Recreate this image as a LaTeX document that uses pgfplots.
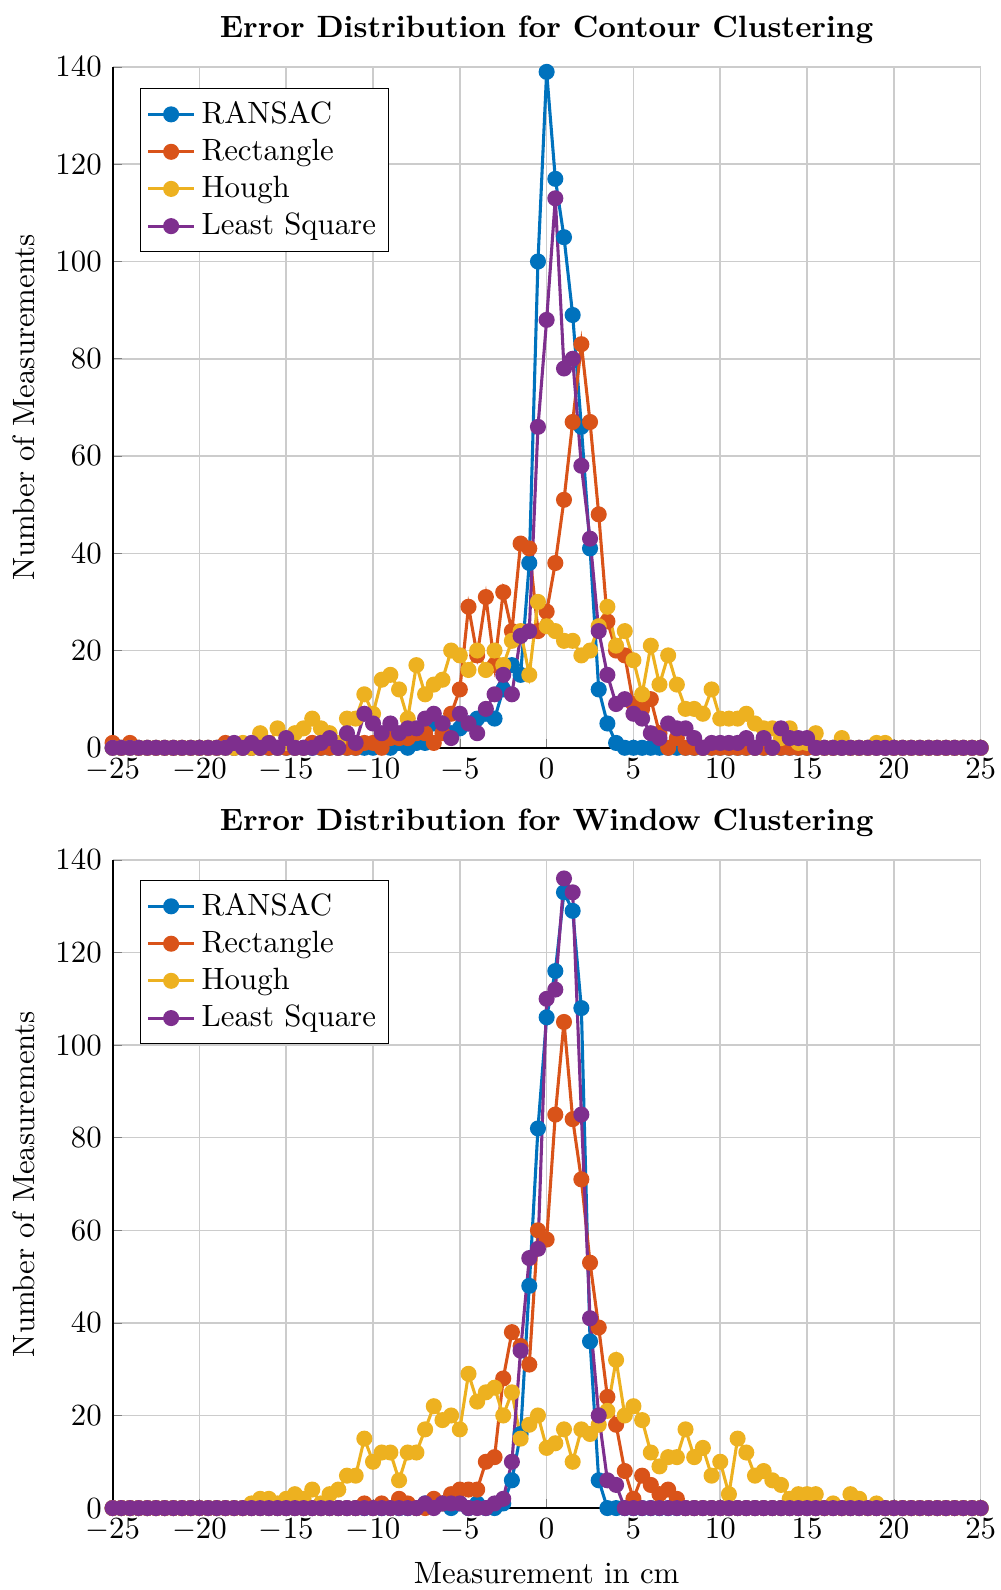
\documentclass[border=0pt]{standalone}
\usepackage{pgfplots}
\usepackage{pgfplotstable}
\pgfplotsset{compat=1.18}
\definecolor{mblue}{rgb}{0,0.447,0.741}
\definecolor{morange}{rgb}{0.85,0.325,0.098}
\definecolor{myellow}{rgb}{0.929,0.694,0.125}
\definecolor{mpurple}{rgb}{0.494,0.184,0.556}

\pgfplotstableread{
x R O H P
-25 0 1 0 0
-24.5 0 0 0 0
-24 0 1 0 0
-23.5 0 0 0 0
-23 0 0 0 0
-22.5 0 0 0 0
-22 0 0 0 0
-21.5 0 0 0 0
-21 0 0 0 0
-20.5 0 0 0 0
-20 0 0 0 0
-19.5 0 0 0 0
-19 0 0 0 0
-18.5 0 1 0 0
-18 0 0 0 1
-17.5 0 0 1 0
-17 0 0 0 1
-16.5 0 0 3 0
-16 0 0 1 1
-15.5 0 0 4 0
-15 0 0 1 2
-14.5 0 0 3 0
-14 0 0 4 0
-13.5 0 1 6 0
-13 0 0 4 1
-12.5 0 0 3 2
-12 0 0 1 0
-11.5 0 0 6 3
-11 0 0 6 1
-10.5 0 1 11 7
-10 0 1 7 5
-9.5 1 0 14 3
-9 0 2 15 5
-8.5 1 2 12 3
-8 0 2 6 4
-7.5 1 3 17 4
-7 1 3 11 6
-6.5 5 1 13 7
-6 5 3 14 5
-5.5 3 7 20 2
-5 4 12 19 7
-4.5 5 29 16 5
-4 6 19 20 3
-3.5 7 31 16 8
-3 6 17 20 11
-2.5 12 32 17 15
-2 17 24 22 11
-1.5 15 42 24 23
-1 38 41 15 24
-0.5 100 24 30 66
0 139 28 25 88
0.5 117 38 24 113
1 105 51 22 78
1.5 89 67 22 80
2 66 83 19 58
2.5 41 67 20 43
3 12 48 25 24
3.5 5 26 29 15
4 1 20 21 9
4.5 0 19 24 10
5 0 9 18 7
5.5 0 8 11 6
6 0 10 21 3
6.5 0 3 13 2
7 0 0 19 5
7.5 0 2 13 4
8 0 0 8 4
8.5 0 0 8 2
9 0 0 7 0
9.5 0 0 12 1
10 0 0 6 1
10.5 0 0 6 1
11 0 0 6 1
11.5 0 0 7 2
12 0 0 5 0
12.5 0 0 4 2
13 0 0 4 0
13.5 0 0 2 4
14 0 0 4 2
14.5 0 0 1 2
15 0 0 1 2
15.5 0 0 3 0
16 0 0 0 0
16.5 0 0 0 0
17 0 0 2 0
17.5 0 0 0 0
18 0 0 0 0
18.5 0 0 0 0
19 0 0 1 0
19.5 0 0 1 0
20 0 0 0 0
20.5 0 0 0 0
21 0 0 0 0
21.5 0 0 0 0
22 0 0 0 0
22.5 0 0 0 0
23 0 0 0 0
23.5 0 0 0 0
24 0 0 0 0
24.5 0 0 0 0
25 0 0 0 0
}\contour

\pgfplotstableread{
x R O H P
-25 0 0 0 0
-24.5 0 0 0 0
-24 0 0 0 0
-23.5 0 0 0 0
-23 0 0 0 0
-22.5 0 0 0 0
-22 0 0 0 0
-21.5 0 0 0 0
-21 0 0 0 0
-20.5 0 0 0 0
-20 0 0 0 0
-19.5 0 0 0 0
-19 0 0 0 0
-18.5 0 0 0 0
-18 0 0 0 0
-17.5 0 0 0 0
-17 0 0 1 0
-16.5 0 0 2 0
-16 0 0 2 0
-15.5 0 0 1 0
-15 0 0 2 0
-14.5 0 0 3 0
-14 0 0 2 0
-13.5 0 0 4 0
-13 0 0 1 0
-12.5 0 0 3 0
-12 0 0 4 0
-11.5 0 0 7 0
-11 0 0 7 0
-10.5 0 1 15 0
-10 0 0 10 0
-9.5 0 1 12 0
-9 0 0 12 0
-8.5 0 2 6 0
-8 0 1 12 0
-7.5 0 0 12 0
-7 1 0 17 1
-6.5 1 2 22 0
-6 1 1 19 1
-5.5 0 3 20 1
-5 1 4 17 1
-4.5 0 4 29 0
-4 1 4 23 0
-3.5 0 10 25 0
-3 0 11 26 1
-2.5 1 28 20 2
-2 6 38 25 10
-1.5 16 35 15 34
-1 48 31 18 54
-0.5 82 60 20 56
0 106 58 13 110
0.5 116 85 14 112
1 133 105 17 136
1.5 129 84 10 133
2 108 71 17 85
2.5 36 53 16 41
3 6 39 18 20
3.5 0 24 21 6
4 0 18 32 5
4.5 0 8 20 0
5 0 2 22 0
5.5 0 7 19 0
6 0 5 12 0
6.5 0 3 9 0
7 0 4 11 0
7.5 0 2 11 0
8 0 0 17 0
8.5 0 0 11 0
9 0 0 13 0
9.5 0 0 7 0
10 0 0 10 0
10.5 0 0 3 0
11 0 0 15 0
11.5 0 0 12 0
12 0 0 7 0
12.5 0 0 8 0
13 0 0 6 0
13.5 0 0 5 0
14 0 0 2 0
14.5 0 0 3 0
15 0 0 3 0
15.5 0 0 3 0
16 0 0 0 0
16.5 0 0 1 0
17 0 0 0 0
17.5 0 0 3 0
18 0 0 2 0
18.5 0 0 0 0
19 0 0 1 0
19.5 0 0 0 0
20 0 0 0 0
20.5 0 0 0 0
21 0 0 0 0
21.5 0 0 0 0
22 0 0 0 0
22.5 0 0 0 0
23 0 0 0 0
23.5 0 0 0 0
24 0 0 0 0
24.5 0 0 0 0
25 0 0 0 0
}\window

\pgfplotsset{
  errstyle/.style={
    scale only axis,
    width=281.8pt,
    xmin=-25, xmax=25, ymin=0, ymax=140,
    xtick={-25,-20,...,25},
    ytick={0,20,...,140},
    xmajorgrids, ymajorgrids,
    major grid style={black!20, line width=0.5pt},
    axis x line*=bottom, axis y line*=left,
    axis line style={black, line width=0.6pt},
    tick align=inside,
    major tick length=3pt,
    title style={font=\bfseries, yshift=-2pt},
    ylabel={Number of Measurements},
    legend cell align=left,
    legend style={at={(0.0316,0.969)}, anchor=north west, draw=black, fill=white,
      font=\normalsize, row sep=-0.4pt, inner sep=2pt},
    legend image code/.code={\draw[mark repeat=2,mark phase=2,##1] plot coordinates {(0cm,0cm) (0.26cm,0cm) (0.52cm,0cm)};},
    every axis plot/.append style={line width=1pt, mark=*, mark size=2.1pt, mark options={solid}},
  }
}

\begin{document}
\begin{tikzpicture}
\begin{axis}[errstyle, height=221pt, at={(0,0)}, anchor=north west,
  title={Error Distribution for Contour Clustering}]
\addplot[color=mblue] table[x=x,y=R] {\contour};
\addlegendentry{RANSAC}
\addplot[color=morange] table[x=x,y=O] {\contour};
\addlegendentry{Rectangle}
\addplot[color=myellow] table[x=x,y=H] {\contour};
\addlegendentry{Hough}
\addplot[color=mpurple] table[x=x,y=P] {\contour};
\addlegendentry{Least Square}
\end{axis}
\begin{axis}[errstyle, height=210.4pt, at={(0,-257.4pt)}, anchor=north west,
  title={Error Distribution for Window Clustering},
  xlabel={Measurement in cm}]
\addplot[color=mblue] table[x=x,y=R] {\window};
\addlegendentry{RANSAC}
\addplot[color=morange] table[x=x,y=O] {\window};
\addlegendentry{Rectangle}
\addplot[color=myellow] table[x=x,y=H] {\window};
\addlegendentry{Hough}
\addplot[color=mpurple] table[x=x,y=P] {\window};
\addlegendentry{Least Square}
\end{axis}
\pgfresetboundingbox
\path (-36.55pt,21.75pt) rectangle (288.07pt,-494.4pt);
\end{tikzpicture}
\end{document}
